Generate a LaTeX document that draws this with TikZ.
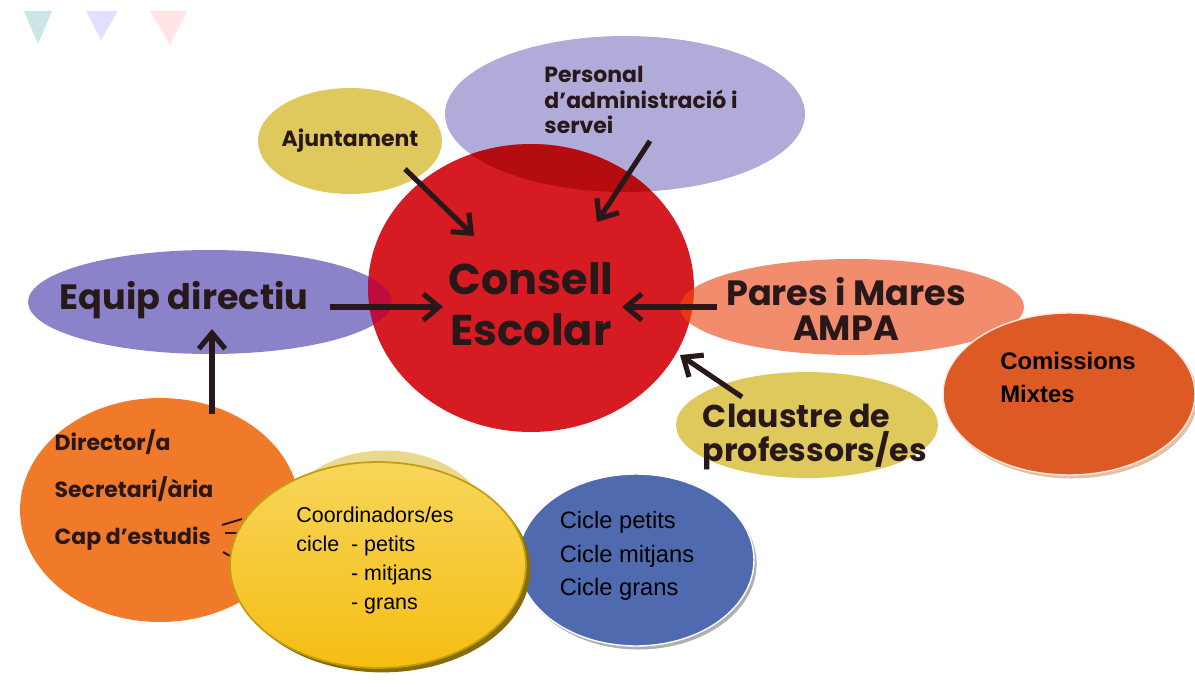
\documentclass[tikz,border=0pt]{standalone}
\usepackage{fontspec}
\usepackage{tikz}
\usetikzlibrary{shapes.geometric,arrows.meta,shadows}
\newfontfamily\futura{Poppins}
\newfontfamily\arial{Liberation Sans}
\definecolor{vermell}{RGB}{214,28,34}
\definecolor{groc}{RGB}{224,201,92}
\definecolor{lila}{RGB}{176,171,216}
\definecolor{violeta}{RGB}{139,131,201}
\definecolor{salmo}{RGB}{241,140,108}
\definecolor{taronja}{RGB}{240,122,42}
\definecolor{teula}{RGB}{222,90,36}
\definecolor{blau}{RGB}{79,106,175}
\definecolor{or}{RGB}{244,196,20}
\definecolor{fosc}{RGB}{40,24,26}
\tikzset{
  globo/.style={ellipse, inner sep=0pt},
  titol/.style={text=fosc, align=left},
  flecha/.style={draw=fosc, line width=2.9pt, -{Straight Barb[length=9pt,width=15pt]}},
}

\begin{document}
\begin{tikzpicture}[x=0.02cm, y=-0.02cm]
    \useasboundingbox (0,0) rectangle (1195,686);

    % faint pennants
    \fill[teal!20] (24,11) -- (52,11) -- (38,44) -- cycle;
    \fill[blue!12] (86,11) -- (118,11) -- (101,40) -- cycle;
    \fill[red!10] (150,11) -- (187,11) -- (170,45) -- cycle;

    % Outer ellipses
    \node[globo, fill=groc, minimum width=3.68cm, minimum height=2.12cm] (ajun) at (350,141) {};
    \node[globo, fill=lila, minimum width=7.2cm, minimum height=3.12cm] (pers) at (625,114) {};
    \node[globo, fill=violeta, minimum width=7.28cm, minimum height=2.08cm] (equip) at (210,302) {};
    \node[globo, fill=salmo, minimum width=6.88cm, minimum height=1.92cm] (pares) at (852,307) {};

    \node[titol, font=\futura\bfseries\fontsize{12.5}{15}\selectfont] at (ajun) {Ajuntament};
    \node[titol, font=\futura\bfseries\fontsize{12.5}{14.3}\selectfont] at ([shift={(16,-14)}]pers.center) {Personal\\d’administració i\\servei};
    \node[titol, font=\futura\bfseries\fontsize{20}{24}\selectfont] at ([shift={(-26,-2)}]equip.center) {Equip directiu};
    \node[titol, align=center, font=\futura\bfseries\fontsize{20}{19.5}\selectfont] at ([shift={(-6,2)}]pares.center) {Pares i Mares\\AMPA};

    % Consell Escolar
    \node[globo, fill=vermell, minimum width=6.52cm, minimum height=5.76cm] (cons) at (531,288) {};
    \begin{scope}
        \clip (cons.center) ellipse [x radius=163, y radius=144];
        \fill[red!60!black, opacity=0.55] (pers.center) ellipse [x radius=180, y radius=78];
        \fill[orange!80!red, opacity=0.45] (ajun.center) ellipse [x radius=92, y radius=53];
        \fill[violet!70!red, opacity=0.5] (equip.center) ellipse [x radius=182, y radius=52];
        \fill[orange!70!red, opacity=0.45] (pares.center) ellipse [x radius=172, y radius=48];
    \end{scope}
    \node[titol, align=center, font=\futura\bfseries\fontsize{24.5}{29}\selectfont] at ([shift={(0,16)}]cons.center) {Consell\\Escolar};

    \node[globo, fill=groc, minimum width=5.24cm, minimum height=2.12cm] (claus) at (807,425) {};
    \node[titol, font=\futura\bfseries\fontsize{18}{18.8}\selectfont] at ([shift={(8,12)}]claus.center) {Claustre de\\professors/es};

    \node[globo, fill=taronja, minimum width=5.6cm, minimum height=4.48cm] (dir) at (160,510) {};
    \node[titol, font=\futura\bfseries\fontsize{12.5}{26.7}\selectfont] at ([shift={(-26,-20)}]dir.center) {Director/a\\Secretari/ària\\Cap d’estudis};
    \draw[fosc, line width=1.1pt] (222,525) -- (242,519) (225,533) -- (238,533) (223,552) -- (232,557);

    % Comissions
    \node[globo, fill=teula, draw=white!85!teula, line width=0.8pt, drop shadow={shadow xshift=1.5pt, shadow yshift=-2pt, fill=brown!60, opacity=0.8}, minimum width=5.04cm, minimum height=3.24cm] (comis) at (1069,394) {};
    \node[text=black, align=left, font=\arial\bfseries\fontsize{13.6}{18.8}\selectfont] at ([shift={(-1,-17)}]comis.center) {Comissions\\Mixtes};

    % Cicles
    \node[globo, fill=groc!70!white, minimum width=4.2cm, minimum height=3.1cm] (fons) at (385,528) {};
    \node[globo, fill=blau, draw=white, line width=0.8pt, drop shadow={shadow xshift=1.5pt, shadow yshift=-2pt, fill=gray!70, opacity=0.9}, minimum width=4.72cm, minimum height=3.44cm] (cicle) at (636,560) {};
    \node[text=black, align=left, font=\arial\fontsize{13.5}{19}\selectfont] at ([shift={(-9,-4)}]cicle.center) {Cicle petits\\Cicle mitjans\\Cicle grans};

    \node[globo, top color=or!70!white, middle color=or!85!white, bottom color=or!90!orange, draw=or!80!black, line width=1pt, drop shadow={shadow xshift=2.5pt, shadow yshift=-2.5pt, fill=or!55!black, opacity=1}, minimum width=5.92cm, minimum height=4.12cm] (coord) at (378,565) {};
    \node[text=black, align=left, font=\arial\fontsize{12.2}{16.5}\selectfont] at ([shift={(-3,-5)}]coord.center) {Coordinadors/es\\cicle\ \ - petits\\\phantom{cicle\ \ }- mitjans\\\phantom{cicle\ \ }- grans};

    % Arrows
    \draw[flecha] ([shift={(55,28)}]ajun.center) -- ([shift={(-57,-52)}]cons.center);
    \draw[flecha] ([shift={(25,27)}]pers.center) -- ([shift={(66,-66)}]cons.center);
    \draw[flecha] ([shift={(120,5)}]equip.center) -- ([shift={(-88,19)}]cons.center);
    \draw[flecha] ([shift={(-135,0)}]pares.center) -- ([shift={(91,19)}]cons.center);
    \draw[flecha] ([shift={(-65,-28)}]claus.center) -- ([shift={(149,67)}]cons.center);
    \draw[flecha] ([shift={(52,-96)}]dir.center) -- ([shift={(2,27)}]equip.center);
\end{tikzpicture}
\end{document}
